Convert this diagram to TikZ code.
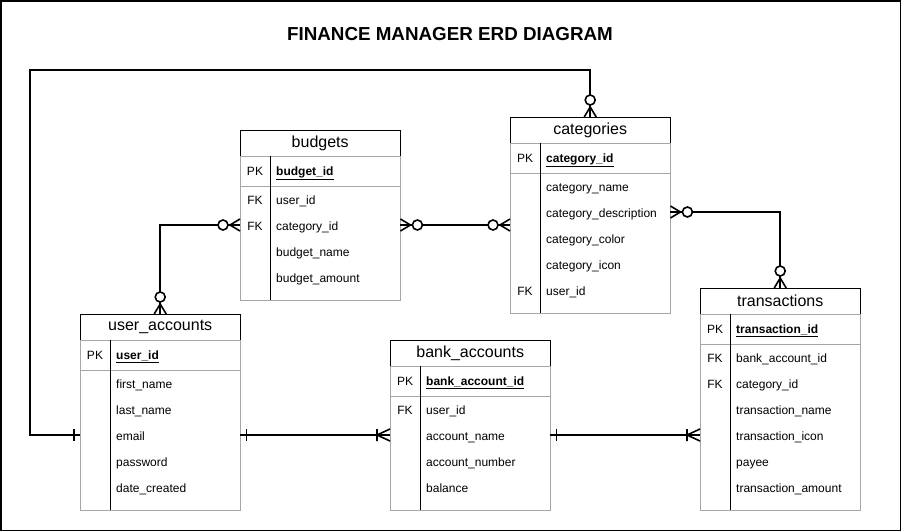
\documentclass[tikz,border=0pt]{standalone}
\usepackage{fontspec}
\setmainfont{Liberation Sans}
\usetikzlibrary{positioning}

\tikzset{
  hdr/.style={draw, rectangle, anchor=north west, minimum width=160pt, minimum height=26pt, inner sep=0pt, font=\fontsize{16}{18}\selectfont},
  tbody/.style={draw=black!35, rectangle, anchor=north west, minimum width=160pt, inner sep=0pt},
  fld/.style={anchor=west, inner sep=0pt, text height=11pt, text depth=1pt, font=\fontsize{12}{14}\selectfont},
  key/.style={inner sep=0pt, text height=11pt, text depth=1pt, font=\fontsize{12}{14}\selectfont},
  conn/.style={line width=2pt},
  endmark/.style={line width=1.6pt}
}

% table: name, x, y, title, pk field, rows (key/field)
\newcommand\erdtable[6]{
  \xdef\nrows{0}
  \foreach \k/\f in {#6} {\xdef\nrows{\the\numexpr\nrows+1\relax}}
  \node[hdr] (#1) at (#2,#3) {#4};
  \node[tbody, minimum height={30+26*\nrows+10}] (#1-b) at (#2,#3+26) {};
  \draw[black!35] (#2,#3+56) -- (#2+160,#3+56);
  \draw (#2+30,#3+26) -- (#2+30,#3+66+26*\nrows);
  \node[key] (#1-pk) at (#2+15,#3+40) {PK};
  \node[fld] (#1-0) at (#2+36,#3+40) {\bfseries\underline{#5}};
  \foreach \k/\f [count=\i] in {#6} {
    \node[key] at (#2+15,#3+43+26*\i) {\k};
    \node[fld] (#1-\i) at (#2+36,#3+43+26*\i) {\f};
  }
}

% ends of the connectors, drawn outward from the table edge
\newcommand\zmany[2]{
  \begin{scope}[shift={#1}, rotate=#2]
    \draw[endmark] (10,0) -- (0,6) (10,0) -- (0,-6);
    \draw[endmark, fill=white] (17,0) circle (5);
  \end{scope}
}
\newcommand\onemany[2]{
  \begin{scope}[shift={#1}, rotate=#2]
    \draw[endmark] (13,0) -- (0,6) (13,0) -- (0,-6) (13,6) -- (13,-6);
  \end{scope}
}
\newcommand\onebar[2]{
  \begin{scope}[shift={#1}, rotate=#2]
    \draw[endmark] (6,6) -- (6,-6);
  \end{scope}
}

\begin{document}
\begin{tikzpicture}[x=1pt, y=-1pt]
  \draw[line width=1.5pt] (0.75,0.75) rectangle (900.25,530.25);
  \node (title) at (450,34) {\fontsize{18.8}{22}\selectfont\bfseries FINANCE MANAGER ERD DIAGRAM};

  \erdtable{bud}{240}{130}{budgets}{budget\_id}{FK/user\_id, FK/category\_id, /budget\_name, /budget\_amount}
  \erdtable{cat}{510}{117}{categories}{category\_id}{/category\_name, /category\_description, /category\_color, /category\_icon, FK/user\_id}
  \erdtable{trx}{700}{288}{transactions}{transaction\_id}{FK/bank\_account\_id, FK/category\_id, /transaction\_name, /transaction\_icon, /payee, /transaction\_amount}
  \erdtable{ua}{80}{314}{user\_accounts}{user\_id}{/first\_name, /last\_name, /email, /password, /date\_created}
  \erdtable{bank}{390}{340}{bank\_accounts}{bank\_account\_id}{FK/user\_id, /account\_name, /account\_number, /balance}

  % connectors
  \draw[conn] (ua.north) |- (bud-b.west |- bud-2);
  \draw[conn] (bud-b.east |- bud-2) -- (cat-b.west |- bud-2);
  \draw[conn] (cat-b.east |- cat-2) -| (trx.north);
  \draw[conn] (ua-b.west |- ua-3) -| (30,70) -| (cat.north);
  \draw[conn] (ua-b.east |- ua-3) -- (bank-b.west |- bank-2);
  \draw[conn] (bank-b.east |- bank-2) -- (trx-b.west |- trx-4);

  % ends
  \zmany{(ua.north)}{90}
  \zmany{(bud-b.west |- bud-2)}{180}
  \zmany{(bud-b.east |- bud-2)}{0}
  \zmany{(cat-b.west |- bud-2)}{180}
  \zmany{(cat-b.east |- cat-2)}{0}
  \zmany{(trx.north)}{90}
  \zmany{(cat.north)}{90}
  \onebar{(ua-b.west |- ua-3)}{180}
  \onebar{(ua-b.east |- ua-3)}{0}
  \onemany{(bank-b.west |- bank-2)}{180}
  \onebar{(bank-b.east |- bank-2)}{0}
  \onemany{(trx-b.west |- trx-4)}{180}
\end{tikzpicture}
\end{document}
